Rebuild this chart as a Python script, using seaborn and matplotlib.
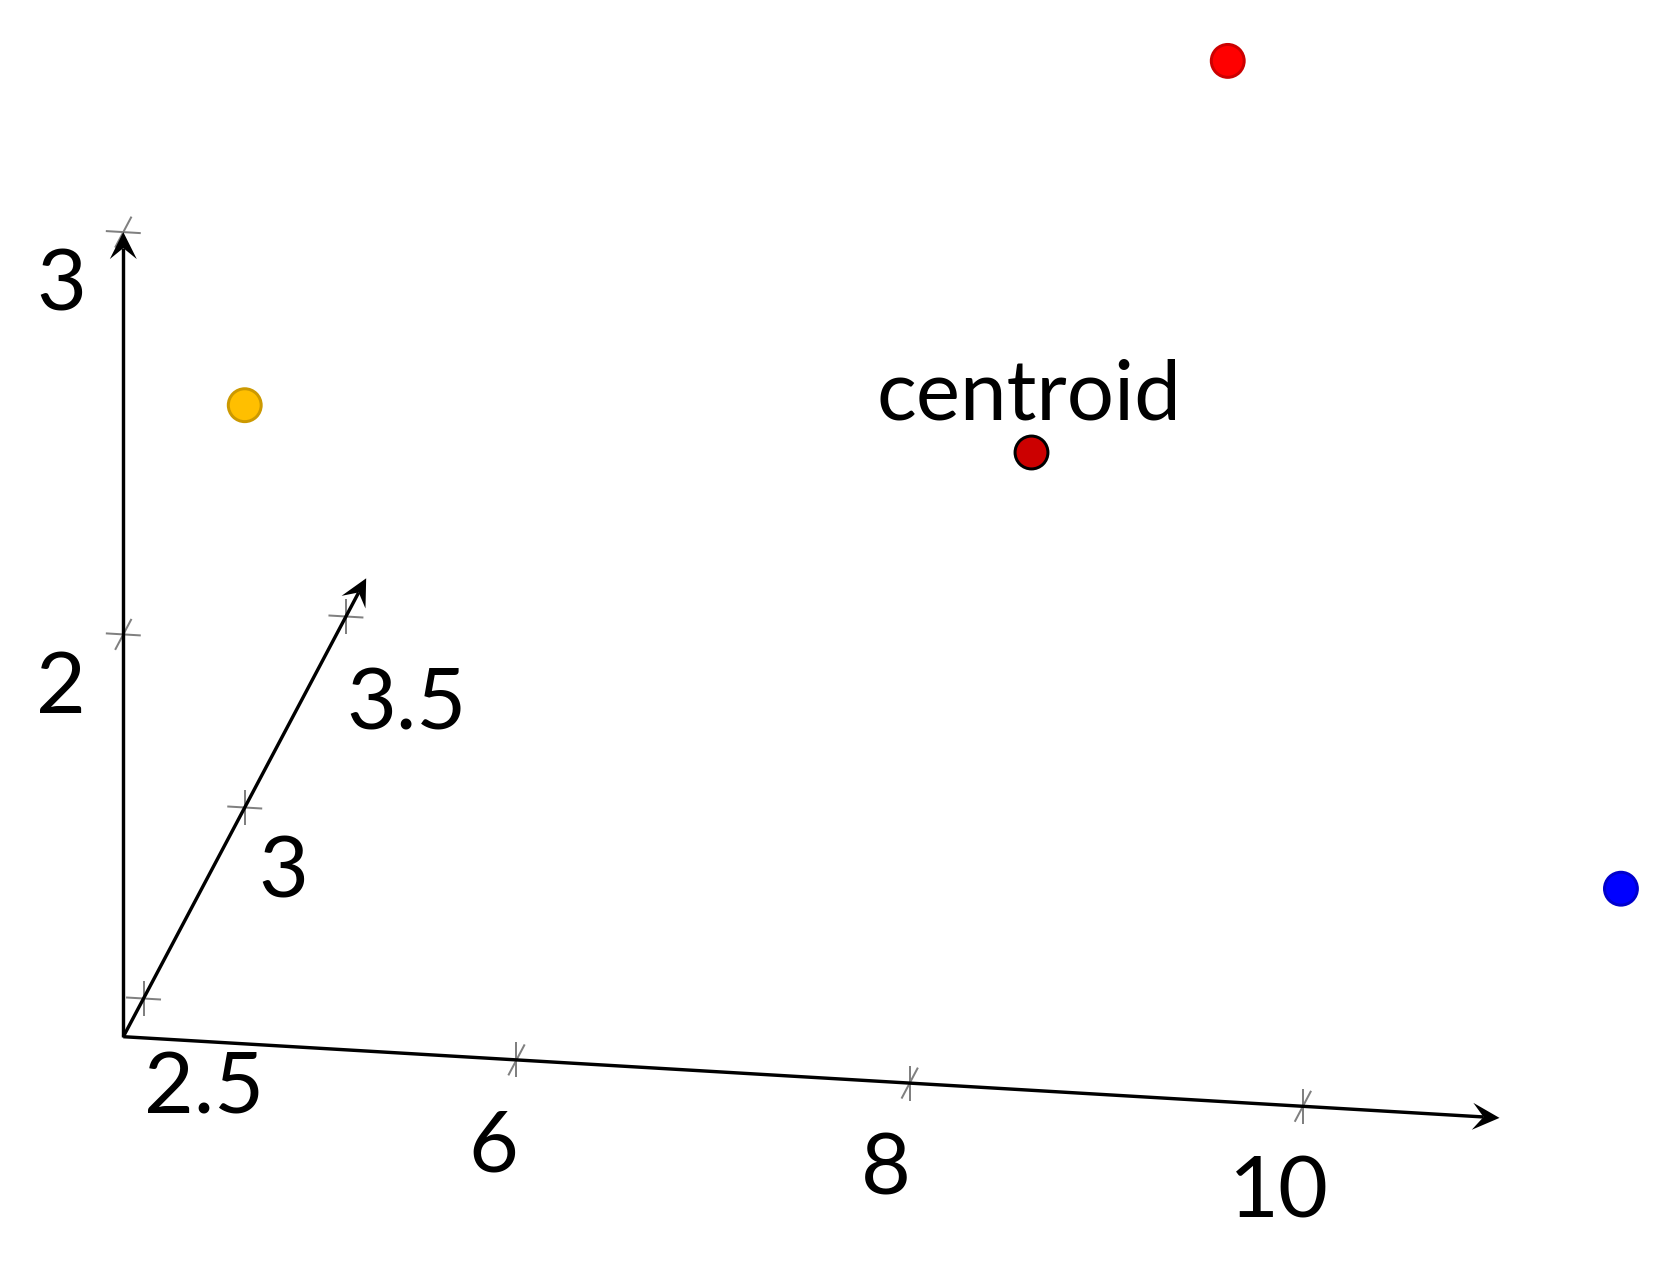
import numpy as np
import pandas as pd
import matplotlib
matplotlib.use("Agg")
import matplotlib.pyplot as plt
import seaborn as sns

# data: three points and their centroid
pt_x = [4, 9, 11]
pt_y = [3, 3, 3]
pt_z = [2, 3, 1]
pt_name = ["a", "b", "c"]
pt_fill = ["#ffbf00", "#ff0000", "#0000ff"]
pt_edge = ["#cc9900", "#cc0000", "#0000cc"]

x_range = [4, 11]
y_range = [2.4, 3.6]
z_range = [1, 3]
x_ticks = [6, 8, 10]
y_ticks = [2.5, 3, 3.5]
z_ticks = [2, 3]
x_labels = ["6", "8", "10"]
y_labels = ["2.5", "3", "3.5"]
z_labels = ["2", "3"]

# oblique view (pixels per unit on the canvas, y down)
W, H = 1681, 1261
ORIGIN = np.array([123.3, 1036.7])
EX = np.array([196.6, 11.6])
EY = np.array([202.4, -382.0])
EZ = np.array([0.0, -402.3])


def proj(x, y, z):
    x = np.asarray(x, float) - x_range[0]
    y = np.asarray(y, float) - y_range[0]
    z = np.asarray(z, float) - z_range[0]
    px = ORIGIN[0] + x * EX[0] + y * EY[0] + z * EZ[0]
    py = ORIGIN[1] + x * EX[1] + y * EY[1] + z * EZ[1]
    return px, py


sns.set_style("white")
plt.rcParams['font.family'] = ['Lato', 'DejaVu Sans']
plt.rcParams['text.color'] = 'black'

fig = plt.figure(figsize=(W / 100, H / 100), dpi=100)
ax = fig.add_axes([0, 0, 1, 1])
ax.set_xlim(0, W)
ax.set_ylim(H, 0)
ax.axis("off")

PX = 0.72  # points per pixel at dpi 100
TICK_HALF = 17.5


def unit(v):
    v = np.asarray(v, float)
    return v / np.hypot(*v)


def tick_cross(p, dirs):
    for d in dirs:
        u = unit(d)
        a = np.array(p) - TICK_HALF * u
        b = np.array(p) + TICK_HALF * u
        ax.plot([a[0], b[0]], [a[1], b[1]], color="#808080", lw=2 * PX, zorder=2,
                solid_capstyle="butt")


def axis_arrow(start, tip):
    start = np.array(start)
    tip = np.array(tip)
    u = unit(tip - start)
    n = np.array([-u[1], u[0]])
    L, Wd, I = 27, 13.5, 16
    back = tip - I * u
    ax.plot([start[0], back[0]], [start[1], back[1]], color="black", lw=3.4 * PX, zorder=3,
            solid_capstyle="butt")
    head = np.array([tip, tip - L * u + Wd * n, back, tip - L * u - Wd * n])
    ax.fill(head[:, 0], head[:, 1], color="black", lw=0, zorder=3)


FS = 62

# ticks
for t, lab in zip(x_ticks, x_labels):
    p = proj(t, y_range[0], z_range[0])
    tick_cross(p, [EY, EZ])
    ax.text(p[0] - 23.5, p[1] + 111.7, lab, ha="center", va="baseline", fontsize=FS,
            color="black")

y_off = [(61, 114.5), (39, 90), (61, 113.5)]
for t, lab, off in zip(y_ticks, y_labels, y_off):
    p = proj(x_range[0], t, z_range[0])
    tick_cross(p, [EX, EZ])
    ax.text(p[0] + off[0], p[1] + off[1], lab, ha="center", va="baseline", fontsize=FS,
            color="black")

for t, lab in zip(z_ticks, z_labels):
    p = proj(x_range[0], y_range[0], t)
    tick_cross(p, [EX, EY])
    ax.text(p[0] - 62, p[1] + 78.5, lab, ha="center", va="baseline", fontsize=FS,
            color="black")

# axes
o = proj(x_range[0], y_range[0], z_range[0])
axis_arrow(o, proj(x_range[1], y_range[0], z_range[0]))
axis_arrow(o, proj(x_range[0], y_range[1], z_range[0]))
axis_arrow(o, proj(x_range[0], y_range[0], z_range[1]))

# points
px, py = proj(pt_x, pt_y, pt_z)
df = pd.DataFrame({"px": px, "py": py, "name": pt_name})
sns.scatterplot(data=df, x="px", y="py", hue="name", palette=dict(zip(pt_name, pt_fill)),
                edgecolor=pt_edge, linewidth=3 * PX, s=560, legend=False, ax=ax, zorder=5)

cx, cy = proj(np.mean(pt_x), np.mean(pt_y), np.mean(pt_z))
cdf = pd.DataFrame({"px": [cx], "py": [cy]})
sns.scatterplot(data=cdf, x="px", y="py", color="#cc0000", edgecolor="black",
                linewidth=3 * PX, s=560, legend=False, ax=ax, zorder=6)
ax.text(cx - 1.8, cy - 31.7, "centroid", ha="center", va="baseline", fontsize=60,
        color="black")

ax.set_xlabel("")
ax.set_ylabel("")
ax.set_xlim(0, W)
ax.set_ylim(H, 0)
fig.savefig("out.png", dpi=100)
